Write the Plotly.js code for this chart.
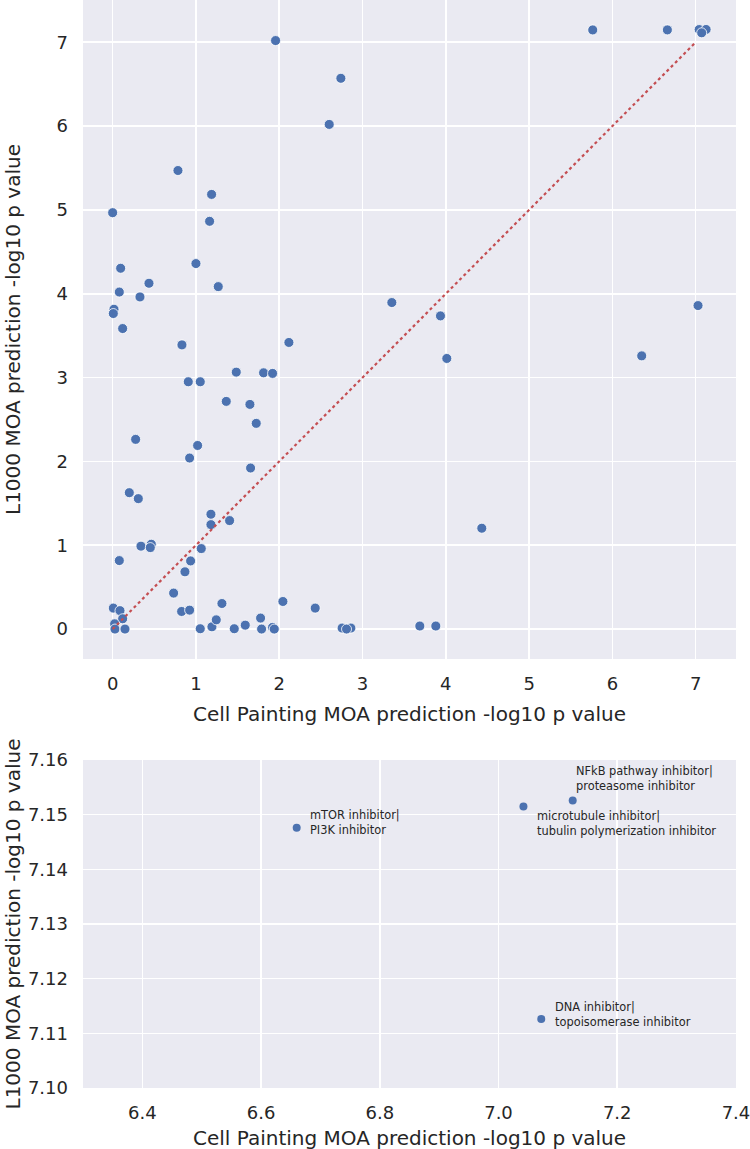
<!DOCTYPE html>
<html>
<head>
<meta charset="utf-8">
<script src="https://cdn.plot.ly/plotly-3.0.1.min.js"></script>
<style>html,body{margin:0;padding:0;background:#fff;}#chart{width:750px;height:1149px;}</style>
</head>
<body>
<div id="chart"></div>
<script>
// ---- data ----
const cpPvals = [
  1.956, 2.74, 2.60, 0.784, 1.188, 0.0, 1.164, 0.096, 1.0, 0.436, 1.268, 0.08, 0.328, 0.016, 0.008, 0.12,
  0.832, 2.116, 1.484, 1.812, 1.92, 0.908, 1.052, 1.364, 1.648, 1.724, 0.276, 1.02, 0.924, 1.656, 0.2, 0.308,
  1.18, 1.18, 1.404, 0.34, 0.464, 0.452, 1.064, 0.08, 0.936, 0.868, 0.732,
  0.008, 0.088, 0.12, 0.024, 0.028, 0.148,
  0.828, 0.924, 1.312, 2.044, 2.432,
  1.052, 1.192, 1.244, 1.46, 1.592, 1.776, 1.788, 1.92, 1.94,
  2.755, 2.86, 2.808,
  5.764, 6.66, 7.042, 7.125, 7.072, 3.352, 3.936, 7.028,
  4.012, 6.352, 4.432, 3.688, 3.88
];
const l1000Pvals = [
  7.02, 6.57, 6.02, 5.47, 5.185, 4.967, 4.864, 4.304, 4.36, 4.125, 4.085, 4.02, 3.962, 3.815, 3.764, 3.585,
  3.39, 3.419, 3.065, 3.057, 3.05, 2.95, 2.95, 2.716, 2.68, 2.454, 2.263, 2.19, 2.04, 1.921, 1.627, 1.556,
  1.37, 1.246, 1.294, 0.989, 1.012, 0.972, 0.96, 0.817, 0.813, 0.683, 0.429,
  0.25, 0.22, 0.123, 0.063, 0.0, 0.0,
  0.21, 0.226, 0.305, 0.329, 0.25,
  0.004, 0.027, 0.11, 0.004, 0.047, 0.131, 0.0, 0.02, 0.0,
  0.012, 0.012, 0.0,
  7.147, 7.1476, 7.1515, 7.1526, 7.1126, 3.895, 3.736, 3.859,
  3.228, 3.259, 1.203, 0.036, 0.036
];
const diagX = [0, 7];
const diagY = [0, 7];

// zoomed top-right points
const zoomCp = [6.66, 7.042, 7.125, 7.072];
const zoomL1000 = [7.1476, 7.1515, 7.1526, 7.1126];
const zoomLabels = [
  "mTOR inhibitor|<br>PI3K inhibitor",
  "microtubule inhibitor|<br>tubulin polymerization inhibitor",
  "NFkB pathway inhibitor|<br>proteasome inhibitor",
  "DNA inhibitor|<br>topoisomerase inhibitor"
];
const topTicks = [0, 1, 2, 3, 4, 5, 6, 7];
const zoomXTicks = [6.4, 6.6, 6.8, 7.0, 7.2, 7.4];
const zoomYTicks = [7.10, 7.11, 7.12, 7.13, 7.14, 7.15, 7.16];
const xTitle = "Cell Painting MOA prediction -log10 p value";
const yTitle = "L1000 MOA prediction -log10 p value";

// ---- styling / layout ----
const W = 750, H = 1149;
const labelShifts = [[11, 5], [12, -17], [1, 22], [12, 5]]; // [xshift, yshift] px
const FONT = "DejaVu Sans, Liberation Sans, sans-serif";
const TXT = "#262626";
const BLUE = "#4C72B0";
const plotLeft = 83, plotRight = 736;
const topPanel = {top: 0, bottom: 659, xTitleY: 714};
const botPanel = {top: 760, bottom: 1088, xTitleY: 1138};
const yTitleX = 12.5;

const traces = [
  {
    x: cpPvals, y: l1000Pvals, xaxis: "x", yaxis: "y", type: "scatter", mode: "markers",
    marker: {color: BLUE, size: 10, line: {color: "white", width: 0.8}},
    hoverinfo: "x+y", showlegend: false
  },
  {
    x: diagX, y: diagY, xaxis: "x", yaxis: "y", type: "scatter", mode: "lines",
    line: {color: "#C44E52", width: 2.2, dash: "dot"}, hoverinfo: "skip", showlegend: false
  },
  {
    x: zoomCp, y: zoomL1000, xaxis: "x2", yaxis: "y2", type: "scatter", mode: "markers",
    marker: {color: BLUE, size: 8}, hoverinfo: "x+y", showlegend: false
  }
];

const annotations = zoomLabels.map((t, i) => ({
  x: zoomCp[i], y: zoomL1000[i], xref: "x2", yref: "y2", text: t, showarrow: false,
  xanchor: "left", yanchor: "middle", align: "left",
  xshift: labelShifts[i][0], yshift: labelShifts[i][1],
  font: {family: FONT, size: 11.4, color: TXT}
}));

const titleFont = {family: FONT, size: 20, color: TXT};
[topPanel, botPanel].forEach(p => {
  annotations.push({
    text: xTitle, xref: "paper", yref: "paper", showarrow: false,
    x: (plotLeft + plotRight) / 2 / W, y: 1 - p.xTitleY / H,
    xanchor: "center", yanchor: "middle", font: titleFont
  });
  annotations.push({
    text: yTitle, xref: "paper", yref: "paper", showarrow: false, textangle: -90,
    x: yTitleX / W, y: 1 - (p.top + p.bottom) / 2 / H,
    xanchor: "center", yanchor: "middle", font: titleFont
  });
});

function axisBase() {
  return {
    showgrid: true, gridcolor: "white", gridwidth: 1.6, zeroline: false, showline: false,
    ticks: "", ticklabelstandoff: 12, automargin: false, ticklabeloverflow: "allow",
    tickfont: {family: FONT, size: 18, color: TXT}
  };
}

const layout = {
  width: W, height: H,
  margin: {l: 0, r: 0, t: 0, b: 0},
  paper_bgcolor: "white", plot_bgcolor: "#EAEAF2",
  showlegend: false,
  xaxis: Object.assign(axisBase(), {
    domain: [plotLeft / W, plotRight / W], anchor: "y", range: [-0.356, 7.484],
    tickvals: topTicks, ticktext: topTicks.map(String)
  }),
  yaxis: Object.assign(axisBase(), {
    domain: [1 - topPanel.bottom / H, 1 - topPanel.top / H], anchor: "x", range: [-0.357, 7.504],
    tickvals: topTicks, ticktext: topTicks.map(String), ticklabelstandoff: 14
  }),
  xaxis2: Object.assign(axisBase(), {
    domain: [plotLeft / W, plotRight / W], anchor: "y2", range: [6.3, 7.4001],
    tickvals: zoomXTicks, ticktext: zoomXTicks.map(v => v.toFixed(1))
  }),
  yaxis2: Object.assign(axisBase(), {
    domain: [1 - botPanel.bottom / H, 1 - botPanel.top / H], anchor: "x2", range: [7.10, 7.16],
    tickvals: zoomYTicks, ticktext: zoomYTicks.map(v => v.toFixed(2)), ticklabelstandoff: 14
  }),
  annotations: annotations
};

Plotly.newPlot("chart", traces, layout, {staticPlot: true, displayModeBar: false});
</script>
</body>
</html>
